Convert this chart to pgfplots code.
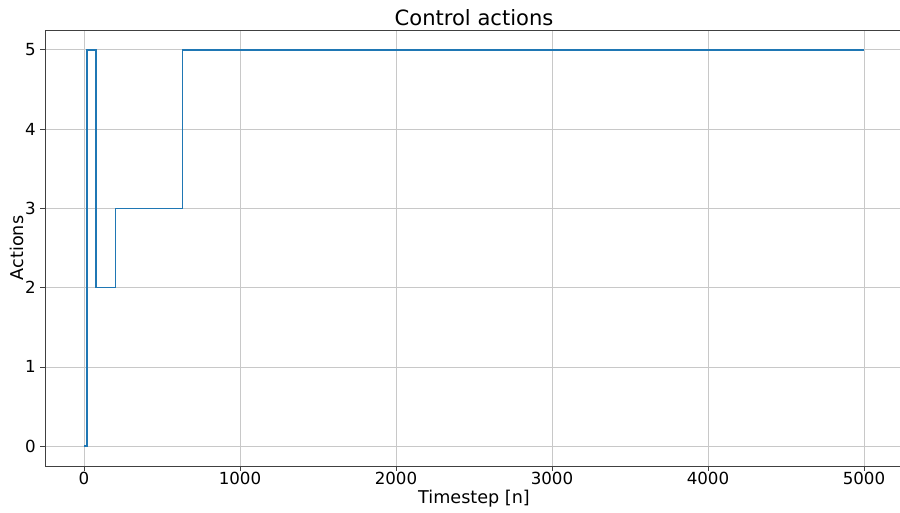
\documentclass[border=0pt]{standalone}
\usepackage{fontspec}
\setmainfont{DejaVu Sans}
\usepackage{pgfplots}
\pgfplotsset{compat=1.18}
\definecolor{mplblue}{HTML}{1F77B4}
\definecolor{gridc}{HTML}{C8C8C8}
\begin{document}
\begin{tikzpicture}
\begin{axis}[
  at={(0,0)}, anchor=south west,
  scale only axis,
  width=643.5pt, height=327pt,
  xmin=-250, xmax=5250, ymin=-0.25, ymax=5.25,
  xtick={0,1000,2000,3000,4000,5000},
  ytick={0,1,2,3,4,5},
  /pgf/number format/assume math mode=true,
  /pgf/number format/1000 sep={},
  scaled ticks=false,
  grid=major,
  major grid style={gridc, line width=0.6pt},
  axis line style={black!75, line width=0.6pt},
  tick style={black!75, line width=0.6pt},
  tick align=outside,
  major tick length=3.5pt,
  xtick pos=bottom, ytick pos=left,
  tick label style={font=\fontsize{12.5}{14}\selectfont},
  xticklabel style={yshift=2.5pt},
  xlabel={Timestep [n]}, ylabel={Actions},
  label style={font=\fontsize{13.2}{15}\selectfont},
  xlabel style={yshift=3pt},
  ylabel style={yshift=-6pt},
  title={Control actions},
  title style={font=\fontsize{15.8}{19}\selectfont, yshift=-6.5pt},
]
\addplot[const plot, mplblue, line width=1.1pt] coordinates {
(0,0) (20,5) (77,2) (203,3) (632,5) (5000,5)
};
\end{axis}
\pgfresetboundingbox
\useasboundingbox (-33.75pt,-35.25pt) rectangle (641.25pt,349.5pt);
\end{tikzpicture}
\end{document}
